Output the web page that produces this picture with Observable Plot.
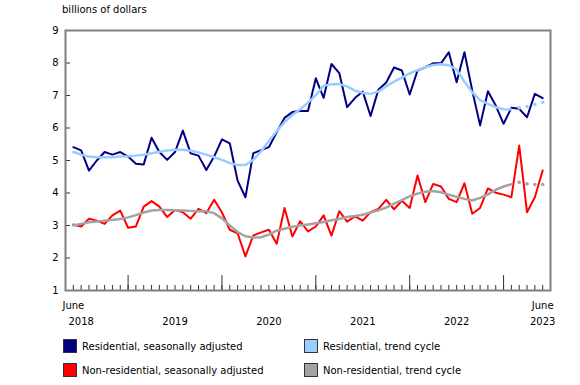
<!DOCTYPE html>
<html><head><meta charset="utf-8">
<script src="https://cdn.jsdelivr.net/npm/d3@7"></script>
<script src="https://cdn.jsdelivr.net/npm/@observablehq/plot@0.6"></script>
<style>
body{margin:0;background:#fff;font-family:"DejaVu Sans",Verdana,sans-serif;}
#wrap{position:relative;width:580px;height:385px;overflow:hidden;}
#title{position:absolute;left:62px;top:4px;font-size:10px;color:#000;}
#chart{position:absolute;left:0;top:22px;}
.leg{position:absolute;font-size:10px;display:flex;align-items:center;color:#000;height:14px;}
.sw{width:12px;height:12px;border:1px solid #333;margin-right:5px;box-sizing:content-box;}
</style></head><body>
<div id="wrap"><div id="title">billions of dollars</div><div id="chart"></div><div id="legend"></div></div>
<script>
// first month of the series, monthly data to June 2023
const startMonth = [2018, 5];
const monthCount = 61;
const yTicks = [1, 2, 3, 4, 5, 6, 7, 8, 9];
const yearLabels = ["2018", "2019", "2020", "2021", "2022", "2023"];
const edgeMonthLabel = "June";

const residentialSA = [5.41,5.31,4.69,5.00,5.26,5.18,5.26,5.12,4.90,4.88,
 5.70,5.26,5.02,5.26,5.92,5.22,5.15,4.71,5.12,5.65,
 5.53,4.38,3.87,5.22,5.32,5.41,5.87,6.31,6.49,6.52,
 6.52,7.53,6.93,7.97,7.69,6.64,6.92,7.12,6.37,7.18,
 7.40,7.86,7.77,7.03,7.77,7.87,7.99,7.99,8.33,7.41,
 8.33,7.15,6.08,7.13,6.69,6.13,6.62,6.59,6.33,7.05,
 6.92];
const residentialTrend = [5.26,5.18,5.12,5.10,5.10,5.10,5.12,5.13,5.15,5.18,
 5.22,5.27,5.31,5.33,5.33,5.30,5.25,5.18,5.10,5.02,
 4.92,4.86,4.86,5.02,5.28,5.60,5.90,6.18,6.40,6.58,
 6.78,7.01,7.30,7.35,7.35,7.28,7.15,7.08,7.05,7.12,
 7.28,7.43,7.55,7.68,7.78,7.87,7.94,7.96,7.93,7.80,
 7.42,7.10,6.86,6.74,6.64,6.58,6.57,6.62,6.66,6.72,
 6.79];
const nonResidentialSA = [3.03,2.97,3.21,3.15,3.05,3.31,3.46,2.93,2.97,3.58,
 3.75,3.58,3.26,3.48,3.41,3.21,3.51,3.38,3.79,3.40,
 2.87,2.76,2.05,2.69,2.79,2.87,2.44,3.54,2.66,3.13,
 2.82,2.97,3.31,2.69,3.44,3.12,3.28,3.15,3.41,3.51,
 3.79,3.50,3.76,3.54,4.54,3.72,4.28,4.20,3.82,3.72,
 4.30,3.36,3.54,4.14,4.01,3.95,3.87,5.46,3.41,3.87,
 4.69];
const nonResidentialTrend = [3.00,3.05,3.10,3.12,3.15,3.17,3.20,3.25,3.32,3.40,
 3.46,3.48,3.48,3.47,3.46,3.45,3.44,3.44,3.38,3.22,
 3.00,2.80,2.67,2.63,2.64,2.72,2.84,2.90,2.96,3.00,
 3.03,3.07,3.11,3.16,3.20,3.26,3.29,3.33,3.40,3.47,
 3.55,3.67,3.78,3.90,3.98,4.04,4.06,4.02,3.95,3.88,
 3.82,3.77,3.85,3.96,4.10,4.20,4.27,4.33,4.28,4.26,
 4.26];
// number of final trend months shown as provisional (dotted)
const provisionalMonths = 4;

const seriesNames = ["Residential, seasonally adjusted", "Residential, trend cycle",
  "Non-residential, seasonally adjusted", "Non-residential, trend cycle"];
const seriesColors = ["#000080", "#99ccff", "#ff0000", "#a3a3a3"];

const months = d3.range(monthCount).map(i => new Date(Date.UTC(startMonth[0], startMonth[1] + i, 1)));
const idx = months.map((d, i) => i);
const toRows = arr => arr.map((v, i) => ({i, v}));
const lastSolid = monthCount - 1 - provisionalMonths;

const janTicks = idx.filter(i => months[i].getUTCMonth() === 0);
const yearPos = yearLabels.map(y => {
  const k = months.findIndex(d => d.getUTCFullYear() === +y && d.getUTCMonth() === 6);
  return k < 0 ? monthCount - 1 : k;
});
const yearMap = new Map(yearPos.map((p, k) => [p, yearLabels[k]]));
const edgeTicks = [0, monthCount - 1];

const resT = toRows(residentialTrend), nonT = toRows(nonResidentialTrend);

const chart = Plot.plot({
  width: 580, height: 310,
  marginTop: 8, marginBottom: 42, marginLeft: 65, marginRight: 30,
  style: {fontFamily: "DejaVu Sans, Verdana, sans-serif", fontSize: "10px", color: "#000", background: "#fff"},
  x: {domain: [-1, monthCount]},
  y: {domain: [1, 9]},
  marks: [
    Plot.axisY({ticks: yTicks, tickSize: -5, tickPadding: 12, label: null, stroke: "#333", fill: "#000"}),
    Plot.axisX({ticks: idx, tickSize: -5, tickFormat: () => "", label: null, stroke: "#333"}),
    Plot.axisX({ticks: janTicks, tickSize: -15, tickFormat: () => "", label: null, stroke: "#333"}),
    Plot.axisX({ticks: edgeTicks, tickSize: 0, tickPadding: 11, tickFormat: () => edgeMonthLabel, label: null, fill: "#000"}),
    Plot.axisX({ticks: yearPos, tickSize: 0, tickPadding: 27, tickFormat: d => yearMap.get(d), label: null, fill: "#000"}),
    Plot.line(toRows(residentialSA), {x: "i", y: "v", stroke: seriesColors[0], strokeWidth: 2}),
    Plot.line(resT.filter(d => d.i <= lastSolid), {x: "i", y: "v", stroke: seriesColors[1], strokeWidth: 2.5}),
    Plot.dot(resT.filter(d => d.i > lastSolid), {x: "i", y: "v", r: 1.8, fill: seriesColors[1]}),
    Plot.line(toRows(nonResidentialSA), {x: "i", y: "v", stroke: seriesColors[2], strokeWidth: 2}),
    Plot.line(nonT.filter(d => d.i <= lastSolid), {x: "i", y: "v", stroke: seriesColors[3], strokeWidth: 2.5}),
    Plot.dot(nonT.filter(d => d.i > lastSolid), {x: "i", y: "v", r: 1.8, fill: seriesColors[3]}),
    Plot.frame({stroke: "#808080", strokeWidth: 2})
  ]
});
document.getElementById("chart").appendChild(chart);

const legendPos = [[63, 339], [304, 339], [63, 363], [304, 363]];
const order = [0, 1, 2, 3];
const leg = document.getElementById("legend");
order.forEach((k, j) => {
  const div = document.createElement("div");
  div.className = "leg";
  div.style.left = legendPos[j][0] + "px";
  div.style.top = legendPos[j][1] + "px";
  div.innerHTML = `<span class="sw" style="background:${seriesColors[k]}"></span><span>${seriesNames[k]}</span>`;
  leg.appendChild(div);
});
</script>
</body></html>
